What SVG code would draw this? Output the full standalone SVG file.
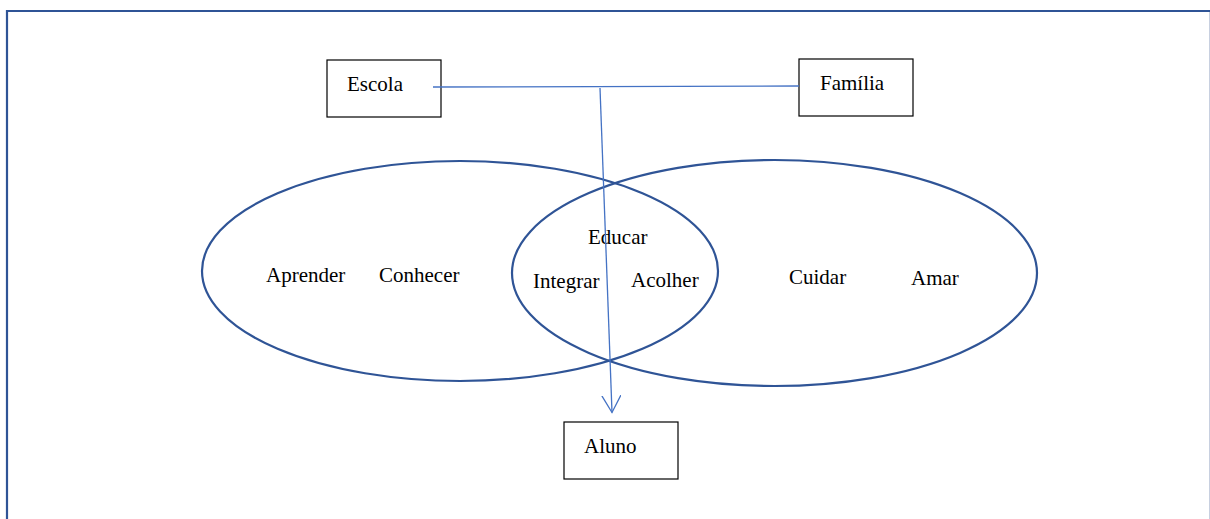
<svg xmlns="http://www.w3.org/2000/svg" width="1210" height="519" viewBox="0 0 1210 519">
<style>
text{font-family:"Liberation Serif","Times New Roman",serif;font-size:21px;fill:#000}
.box{fill:#fff;stroke:#000;stroke-width:1.2}
.ell{fill:none;stroke:#2F5496;stroke-width:2.2}
.con{stroke:#4472C4;stroke-width:1.3;fill:none}
</style>
<defs>
<marker id="arr" markerWidth="20" markerHeight="22" refX="17" refY="9.5" orient="auto" markerUnits="userSpaceOnUse">
<path d="M0,0 L17,9.5 L0,19" fill="none" stroke="#4472C4" stroke-width="1.3"/>
</marker>
</defs>
<rect width="1210" height="519" fill="#fff"/>
<g id="frame">
<path d="M7,519 L7,11 L1210,11" fill="none" stroke="#2F5496" stroke-width="2.2"/>
<line x1="1209.5" y1="12" x2="1209.5" y2="519" stroke="#c8d0e0" stroke-width="1"/>
</g>
<g id="sets">
<ellipse class="ell" cx="460" cy="271" rx="258" ry="110"/>
<ellipse class="ell" cx="774.5" cy="273" rx="262.5" ry="113"/>
<text x="266" y="281.5">Aprender</text>
<text x="379" y="282">Conhecer</text>
<text x="588" y="243.5">Educar</text>
<text x="533" y="287.5">Integrar</text>
<text x="631" y="287">Acolher</text>
<text x="789" y="284">Cuidar</text>
<text x="911" y="285">Amar</text>
</g>
<g id="escola">
<rect class="box" x="327" y="60" width="114" height="57"/>
<text x="347" y="91">Escola</text>
</g>
<g id="familia">
<rect class="box" x="799" y="59" width="114" height="57"/>
<text x="820" y="90">Família</text>
</g>
<g id="aluno">
<rect class="box" x="564" y="422" width="114" height="57"/>
<text x="584" y="453">Aluno</text>
</g>
<g id="connectors">
<line class="con" x1="433" y1="87" x2="799" y2="86"/>
<line class="con" x1="600" y1="88" x2="612" y2="412.5" marker-end="url(#arr)"/>
</g>
</svg>
